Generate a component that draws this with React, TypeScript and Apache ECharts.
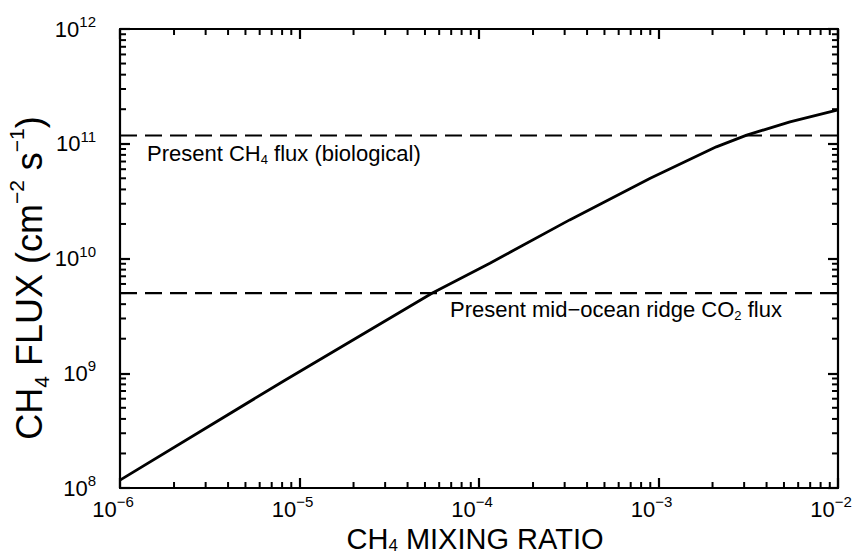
import React, { useEffect, useRef } from 'react';
import * as echarts from 'echarts';

// ---- Data ----
const mixingRatio = [1e-6, 8.3e-6, 5.5e-5, 1.15e-4, 3.2e-4, 9.0e-4, 2.1e-3, 3.1e-3, 5.4e-3, 1e-2];
const ch4Flux = [1.17e8, 8.7e8, 5.0e9, 9.1e9, 2.17e10, 5.0e10, 9.4e10, 1.19e11, 1.55e11, 1.97e11];
const biologicalFlux = 1.18e11;
const ridgeFlux = 5.0e9;
const xRange = [1e-6, 1e-2];
const yRange = [1e8, 1e12];
const xDecades = [-6, -5, -4, -3];
const yDecades = [8, 9, 10, 11];
const minorMultipliers = [2, 3, 4, 5, 6, 7, 8, 9];

const FONT = "'Liberation Sans', Arial, Helvetica, sans-serif";

const tickRich = {
  m: { fontSize: 22, lineHeight: 30, fontFamily: FONT, color: '#000' },
  s: { fontSize: 15, lineHeight: 15, verticalAlign: 'top', fontFamily: FONT, color: '#000' },
};

const xTitleRich = {
  m: { fontSize: 29, lineHeight: 30, fontFamily: FONT, fill: '#000', color: '#000' },
  sub: { fontSize: 17, lineHeight: 17, verticalAlign: 'bottom', fontFamily: FONT, fill: '#000', color: '#000' },
};

const yTitleRich = {
  m: { fontSize: 36, lineHeight: 46, fontFamily: FONT, fill: '#000', color: '#000' },
  sub: { fontSize: 21, lineHeight: 21, verticalAlign: 'bottom', fontFamily: FONT, fill: '#000', color: '#000' },
  sup: { fontSize: 21, lineHeight: 21, verticalAlign: 'top', fontFamily: FONT, fill: '#000', color: '#000' },
};

const noteRich = {
  m: { fontSize: 22, lineHeight: 26, fontFamily: FONT, color: '#000' },
  sub: { fontSize: 13, lineHeight: 13, verticalAlign: 'bottom', fontFamily: FONT, color: '#000' },
};

const powLabel = (v: number) => {
  const e = Math.round(Math.log10(v));
  const es = e < 0 ? '\u2212' + Math.abs(e) : String(e);
  return '{m|10}{s|' + es + '}';
};

const xMinor: number[][] = [];
xDecades.forEach((d) => minorMultipliers.forEach((k) => xMinor.push([k * Math.pow(10, d), yRange[0]])));
const yMinor: number[][] = [];
yDecades.forEach((d) => minorMultipliers.forEach((k) => yMinor.push([xRange[0], k * Math.pow(10, d)])));

const MINOR_LEN = 6;

type Side = 'bottom' | 'top' | 'left' | 'right';
const tickSeries = (side: Side) => ({
  type: 'custom',
  z: 10,
  silent: true,
  data: side === 'bottom' || side === 'top' ? xMinor : yMinor,
  renderItem: (_p: any, api: any) => {
    const xv = api.value(0);
    const yv = api.value(1);
    let x1 = 0, y1 = 0, x2 = 0, y2 = 0;
    if (side === 'bottom') {
      const p = api.coord([xv, yRange[0]]);
      x1 = p[0]; y1 = p[1]; x2 = p[0]; y2 = p[1] - MINOR_LEN;
    } else if (side === 'top') {
      const p = api.coord([xv, yRange[1]]);
      x1 = p[0]; y1 = p[1]; x2 = p[0]; y2 = p[1] + MINOR_LEN;
    } else if (side === 'left') {
      const p = api.coord([xRange[0], yv]);
      x1 = p[0]; y1 = p[1]; x2 = p[0] + MINOR_LEN; y2 = p[1];
    } else {
      const p = api.coord([xRange[1], yv]);
      x1 = p[0]; y1 = p[1]; x2 = p[0] - MINOR_LEN; y2 = p[1];
    }
    return { type: 'line', shape: { x1, y1, x2, y2 }, style: { stroke: '#000', lineWidth: 2 } };
  },
});

export default function App() {
  const ref = useRef<HTMLDivElement>(null);
  useEffect(() => {
    if (!ref.current) return;
    const chart = echarts.init(ref.current, null, { renderer: 'svg' });
    const tick = { show: true, inside: true, length: 10, lineStyle: { color: '#000', width: 2.2 } };
    const line = { show: true, lineStyle: { color: '#000', width: 2.2 } };
    chart.setOption({
      animation: false,
      backgroundColor: '#fff',
      grid: { left: 120, right: 19, top: 29, bottom: 69, containLabel: false, outerBoundsMode: 'none' },
      xAxis: [
        {
          type: 'log',
          position: 'bottom',
          min: xRange[0],
          max: xRange[1],
          axisLine: line,
          axisTick: tick,
          splitLine: { show: false },
          axisLabel: {
            show: true,
            margin: 6,
            formatter: powLabel,
            rich: tickRich,
            padding: [0, 14, 0, 0],
          },
        },
        {
          type: 'log',
          position: 'top',
          min: xRange[0],
          max: xRange[1],
          axisLine: line,
          axisTick: tick,
          splitLine: { show: false },
          axisLabel: { show: false },
        },
      ],
      yAxis: [
        {
          type: 'log',
          position: 'left',
          min: yRange[0],
          max: yRange[1],
          axisLine: line,
          axisTick: tick,
          splitLine: { show: false },
          axisLabel: {
            show: true,
            margin: 24,
            formatter: powLabel,
            rich: tickRich,
          },
        },
        {
          type: 'log',
          position: 'right',
          min: yRange[0],
          max: yRange[1],
          axisLine: line,
          axisTick: tick,
          splitLine: { show: false },
          axisLabel: { show: false },
        },
      ],
      series: [
        {
          type: 'line',
          data: mixingRatio.map((x, i) => [x, ch4Flux[i]]),
          symbol: 'none',
          lineStyle: { color: '#000', width: 2.8 },
          z: 5,
        },
        {
          type: 'line',
          data: [[xRange[0], biologicalFlux], [xRange[1], biologicalFlux]],
          symbol: 'none',
          lineStyle: { color: '#000', width: 2.2, type: [17, 8] },
          z: 4,
        },
        {
          type: 'line',
          data: [[xRange[0], ridgeFlux], [xRange[1], ridgeFlux]],
          symbol: 'none',
          lineStyle: { color: '#000', width: 2.2, type: [17, 8] },
          z: 4,
        },
        tickSeries('bottom'),
        tickSeries('top'),
        tickSeries('left'),
        tickSeries('right'),
      ],
      graphic: [
        {
          type: 'text',
          x: 475,
          y: 539,
          style: {
            text: '{m|CH}{sub|4}{m| MIXING RATIO}',
            rich: xTitleRich,
            textAlign: 'center',
            textVerticalAlign: 'middle',
          },
        },
        {
          type: 'text',
          x: 29,
          y: 278,
          rotation: Math.PI / 2,
          style: {
            text: '{m|CH}{sub|4}{m| FLUX (cm}{sup|\u22122}{m| s}{sup|\u22121}{m|)}',
            rich: yTitleRich,
            textAlign: 'center',
            textVerticalAlign: 'middle',
          },
        },
        {
          type: 'text',
          x: 147,
          y: 153,
          style: {
            text: '{m|Present CH}{sub|4}{m| flux (biological)}',
            rich: noteRich,
            textAlign: 'left',
            textVerticalAlign: 'middle',
          },
        },
        {
          type: 'text',
          x: 450,
          y: 309,
          style: {
            text: '{m|Present mid\u2212ocean ridge CO}{sub|2}{m| flux}',
            rich: noteRich,
            textAlign: 'left',
            textVerticalAlign: 'middle',
          },
        },
      ],
    });
    return () => chart.dispose();
  }, []);
  return (
    <div
      ref={ref}
      style={{ position: 'fixed', left: 0, top: 0, width: 857, height: 557, background: '#fff' }}
    />
  );
}
